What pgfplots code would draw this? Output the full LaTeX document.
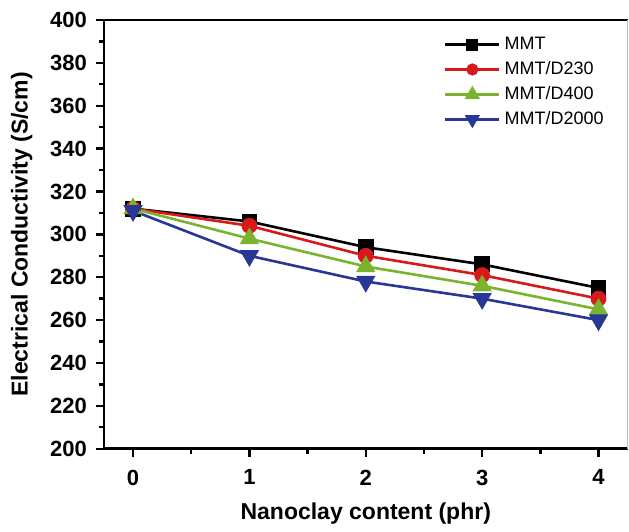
\documentclass[border=0pt]{standalone}
\usepackage{fontspec}
\setmainfont{Liberation Sans}
\usepackage{pgfplots}
\pgfplotsset{compat=1.18}
\usetikzlibrary{calc}
\definecolor{cRed}{RGB}{215,25,28}
\definecolor{cGreen}{RGB}{120,180,45}
\definecolor{cBlue}{RGB}{40,55,150}
\begin{document}
\begin{tikzpicture}
\begin{axis}[
  scale only axis,
  width=262pt, height=214.5pt,
  xmin=-0.25, xmax=4.25,
  ymin=200, ymax=400,
  xtick={0,1,2,3,4},
  minor xtick={0.5,1.5,2.5,3.5},
  ytick={200,220,...,400},
  minor ytick={210,230,...,390},
  axis x line*=bottom,
  axis y line*=left,
  axis line style={line width=1.4pt, -},
  tick style={line width=1.2pt, black},
  tick align=outside,
  major tick length=4pt,
  minor tick length=2.5pt,
  /pgf/number format/assume math mode=true,
  tick label style={font=\fontsize{11}{12}\selectfont\bfseries},
  xticklabel style={yshift=-3pt},
  yticklabel style={xshift=-1pt},
  xlabel={Nanoclay content (phr)},
  ylabel={Electrical Conductivity (S/cm)},
  label style={font=\fontsize{11.5}{13}\selectfont\bfseries},
  xlabel style={yshift=-2pt},
  ylabel style={yshift=2pt},
  legend style={draw=none, fill=none, at={(0.645,0.975)}, anchor=north west,
    font=\fontsize{9}{10}\selectfont, row sep=0.5pt, inner sep=1pt},
  legend cell align=left,
  legend image code/.code={\draw[mark repeat=2,mark phase=2,every mark/.append style={scale=0.72}] plot coordinates {(0pt,0pt)(13.5pt,0pt)(27pt,0pt)};},
  every axis plot/.append style={line width=1.3pt},
]
\addplot[black, mark=square*, mark size=3.3pt, mark options={solid}]
  coordinates {(0,312) (1,306) (2,294) (3,286) (4,275)};
\addlegendentry{MMT}
\addplot[cRed, mark=*, mark size=3.3pt, mark options={solid}]
  coordinates {(0,312) (1,304) (2,290) (3,281) (4,270)};
\addlegendentry{MMT/D230}
\addplot[cGreen, mark=triangle*, mark size=4.3pt, mark options={solid}]
  coordinates {(0,312) (1,298) (2,285) (3,276) (4,265)};
\addlegendentry{MMT/D400}
\addplot[cBlue, mark=triangle*, mark size=4.3pt, mark options={solid, rotate=180}]
  coordinates {(0,311) (1,290) (2,278) (3,270) (4,260)};
\addlegendentry{MMT/D2000}
\end{axis}
\draw[line width=1.4pt] (current axis.north west) -- (current axis.north east);
\draw[line width=0.6pt, black!25] (current axis.north east) -- (current axis.south east);
\path ($(current axis.south west)+(-52pt,-33.5pt)$) rectangle ($(current axis.north east)+(0.5pt,10pt)$);
\end{tikzpicture}
\end{document}
